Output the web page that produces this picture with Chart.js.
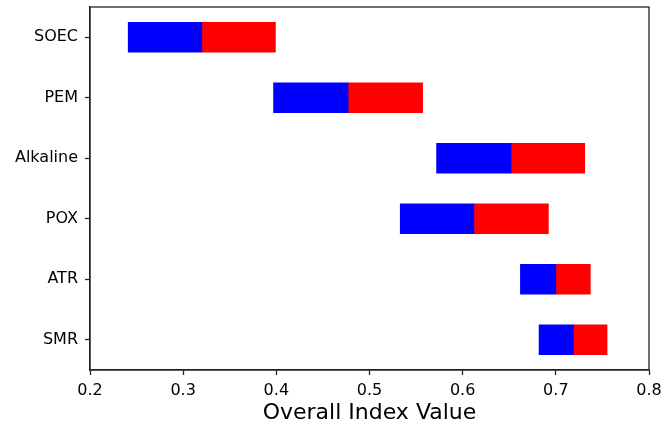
<!DOCTYPE html>
<html>
<head>
<meta charset="utf-8">
<script src="https://cdn.jsdelivr.net/npm/chart.js@4/dist/chart.umd.min.js"></script>
<style>
  html, body { margin: 0; padding: 0; background: #ffffff; }
  #wrap { width: 664px; height: 427px; }
</style>
</head>
<body>
<div id="wrap"><canvas id="chart" width="664" height="427"></canvas></div>
<script>
// Production technologies and their overall index ranges
const technologies = ['SOEC', 'PEM', 'Alkaline', 'POX', 'ATR', 'SMR'];
const lowerValues = [0.241, 0.397, 0.572, 0.533, 0.662, 0.682];
const midValues   = [0.320, 0.477, 0.652, 0.612, 0.700, 0.719];
const upperValues = [0.399, 0.557, 0.731, 0.692, 0.737, 0.755];
const xTicks = [0.2, 0.3, 0.4, 0.5, 0.6, 0.7, 0.8];

const lowerRange = technologies.map((_, i) => [lowerValues[i], midValues[i]]);
const upperRange = technologies.map((_, i) => [midValues[i], upperValues[i]]);

const FONT = "'DejaVu Sans', sans-serif";
const AXIS_COLOR = '#222222';

// Closed frame around the plotting area
const framePlugin = {
  id: 'frame',
  afterDatasetsDraw(chart) {
    const { ctx, chartArea: a } = chart;
    ctx.save();
    ctx.strokeStyle = AXIS_COLOR;
    ctx.lineWidth = 1.3;
    ctx.strokeRect(a.left, a.top, a.right - a.left, a.bottom - a.top);
    ctx.restore();
  }
};

new Chart(document.getElementById('chart'), {
  type: 'bar',
  data: {
    labels: technologies,
    datasets: [
      {
        data: lowerRange,
        backgroundColor: '#0000ff',
        borderWidth: 0,
        grouped: false,
        barThickness: 30
      },
      {
        data: upperRange,
        backgroundColor: '#ff0000',
        borderWidth: 0,
        grouped: false,
        barThickness: 30
      }
    ]
  },
  options: {
    indexAxis: 'y',
    responsive: false,
    animation: false,
    devicePixelRatio: 1,
    layout: { padding: { left: 0, top: 7, right: 15, bottom: 0 } },
    plugins: {
      legend: { display: false },
      tooltip: { enabled: false }
    },
    scales: {
      x: {
        type: 'linear',
        min: 0.2,
        max: 0.8,
        afterBuildTicks(scale) {
          scale.ticks = xTicks.map(v => ({ value: v }));
        },
        afterFit(scale) {
          scale.height = 57;
          scale.paddingLeft = 0;
          scale.paddingRight = 0;
        },
        ticks: {
          color: '#000000',
          font: { family: FONT, size: 16 },
          padding: 6,
          callback: v => v.toFixed(1)
        },
        grid: {
          drawOnChartArea: false,
          drawTicks: true,
          tickLength: 5,
          tickColor: AXIS_COLOR,
          tickWidth: 1.3
        },
        border: { display: true, color: AXIS_COLOR, width: 1.3 },
        title: {
          display: true,
          text: 'Overall Index Value',
          color: '#000000',
          font: { family: FONT, size: 22 },
          padding: { top: 0, bottom: 1 }
        }
      },
      y: {
        type: 'category',
        offset: true,
        afterFit(scale) {
          scale.width = 90;
          scale.paddingTop = 0;
          scale.paddingBottom = 0;
        },
        ticks: {
          color: '#000000',
          font: { family: FONT, size: 16 },
          padding: 7
        },
        grid: {
          offset: false,
          drawOnChartArea: false,
          drawTicks: true,
          tickLength: 5,
          tickColor: AXIS_COLOR,
          tickWidth: 1.3
        },
        border: { display: true, color: AXIS_COLOR, width: 1.3 }
      }
    }
  },
  plugins: [framePlugin]
});
</script>
</body>
</html>
